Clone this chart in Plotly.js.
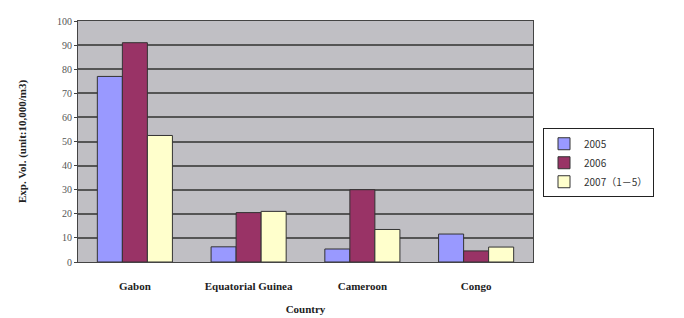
<!DOCTYPE html>
<html><head><meta charset="utf-8">
<script src="https://cdn.plot.ly/plotly-3.0.1.min.js"></script>
<style>html,body{margin:0;padding:0;background:#fff;}#chart{width:684px;height:318px;}</style>
</head><body><div id="chart"></div>
<script>
const countries = ["Gabon", "Equatorial Guinea", "Cameroon", "Congo"];
const seriesNames = ["2005", "2006", "2007（1－5）"];
const vals2005 = [77, 6.3, 5.4, 11.6];
const vals2006 = [91, 20.5, 30, 4.6];
const vals2007 = [52.5, 21, 13.5, 6.2];
const colors = ["#9999ff", "#993366", "#ffffcc"];
const allVals = [vals2005, vals2006, vals2007];

const traces = allVals.map((v, i) => ({
  type: "bar", x: countries, y: v, name: seriesNames[i],
  marker: {color: colors[i], line: {color: "#333333", width: 1}}
}));

const layout = {
  width: 684, height: 318,
  margin: {l: 78, r: 151, t: 21, b: 56},
  paper_bgcolor: "#ffffff", plot_bgcolor: "#c0bfc4",
  barmode: "group", bargap: 0.34, bargroupgap: 0,
  font: {family: "Liberation Serif", color: "#222"},
  xaxis: {
    showline: true, linecolor: "#444", linewidth: 1, mirror: true,
    tickfont: {family: "Liberation Serif", size: 11, color: "#222", weight: "bold"},
    ticklabelstandoff: 14,
    title: {text: "<b>Country</b>", font: {family: "Liberation Serif", size: 11, color: "#222"}, standoff: 14},
    ticks: "", fixedrange: true
  },
  yaxis: {
    range: [0, 100], dtick: 10, showgrid: true, gridcolor: "#555", gridwidth: 2,
    showline: true, linecolor: "#444", linewidth: 1, mirror: true,
    ticks: "outside", ticklen: 3, tickcolor: "#444",
    tickfont: {family: "Liberation Serif", size: 10, color: "#555"},
    title: {text: "<b>Exp. Vol. (unit:10,000/m3)</b>", font: {family: "Liberation Serif", size: 11, color: "#222"}, standoff: 28},
    zeroline: false, fixedrange: true
  },
  legend: {
    x: 1.022, y: 0.555, xanchor: "left", yanchor: "top",
    bgcolor: "#ffffff", bordercolor: "#222", borderwidth: 1,
    font: {family: "Noto Sans CJK SC", size: 10, color: "#333"},
    tracegroupgap: 0, itemwidth: 30
  },
  showlegend: true
};
Plotly.newPlot("chart", traces, layout, {displayModeBar: false, staticPlot: true});
</script></body></html>
